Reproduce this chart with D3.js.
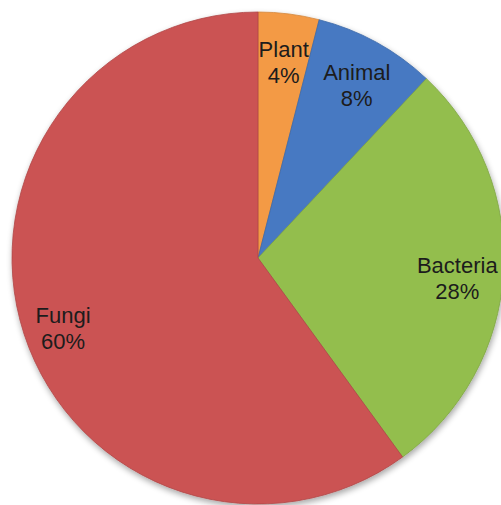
<!DOCTYPE html>
<html><head><meta charset="utf-8">
<script src="https://cdn.jsdelivr.net/npm/d3@7"></script>
<style>html,body{margin:0;padding:0;background:#fff;}svg{display:block;}</style>
</head><body>
<script>
const categories = ["Plant", "Animal", "Bacteria", "Fungi"];
const values = [4, 8, 28, 60];
const colors = ["#F39A45", "#4679C2", "#93BE4E", "#CB5353"];

const W = 501, H = 505, cx = 258, cy = 258, R = 246, RL = 205, LABEL_DY = 7, EDGE = 3;
const svg = d3.select("body").append("svg").attr("width", W).attr("height", H);
const defs = svg.append("defs");
const f = defs.append("filter").attr("id", "sh").attr("x", "-10%").attr("y", "-10%").attr("width", "120%").attr("height", "120%");
f.append("feGaussianBlur").attr("in", "SourceAlpha").attr("stdDeviation", 3);
f.append("feOffset").attr("dx", 1).attr("dy", 3).attr("result", "b");
f.append("feComponentTransfer").append("feFuncA").attr("type", "linear").attr("slope", 0.35);
const m = f.append("feMerge"); m.append("feMergeNode"); m.append("feMergeNode").attr("in", "SourceGraphic");

const data = categories.map((c, i) => ({ name: c, value: values[i], color: colors[i] }));
const pie = d3.pie().value(d => d.value).sort(null);
const arc = d3.arc().innerRadius(0).outerRadius(R);
const labelArc = d3.arc().innerRadius(RL).outerRadius(RL);
const g = svg.append("g").attr("transform", `translate(${cx},${cy})`);
const arcs = pie(data);
const sl = g.append("g").attr("filter", "url(#sh)");
sl.selectAll("path").data(arcs).join("path")
  .attr("d", arc).attr("fill", d => d.data.color)
  .attr("stroke", d => d3.color(d.data.color).darker(0.4)).attr("stroke-width", 0.8);

const labels = g.selectAll("text.lbl").data(arcs).join("text").attr("class", "lbl")
  .attr("text-anchor", "middle")
  .style("font-family", "'Liberation Sans', Arial, sans-serif").style("font-size", "22px").attr("fill", "#1c1c1c");
labels.append("tspan").attr("x", 0).attr("y", -5).text(d => d.data.name);
labels.append("tspan").attr("x", 0).attr("y", 21).text(d => d.data.value + "%");
labels.each(function (d) {
  let [x, y] = labelArc.centroid(d);
  y += LABEL_DY;
  const hw = this.getBBox().width / 2;
  // keep the label inside the picture
  const maxX = W - EDGE - cx - hw, minX = EDGE - cx + hw;
  x = Math.max(minX, Math.min(maxX, x));
  d3.select(this).attr("transform", `translate(${x},${y})`);
});
</script>
</body></html>
